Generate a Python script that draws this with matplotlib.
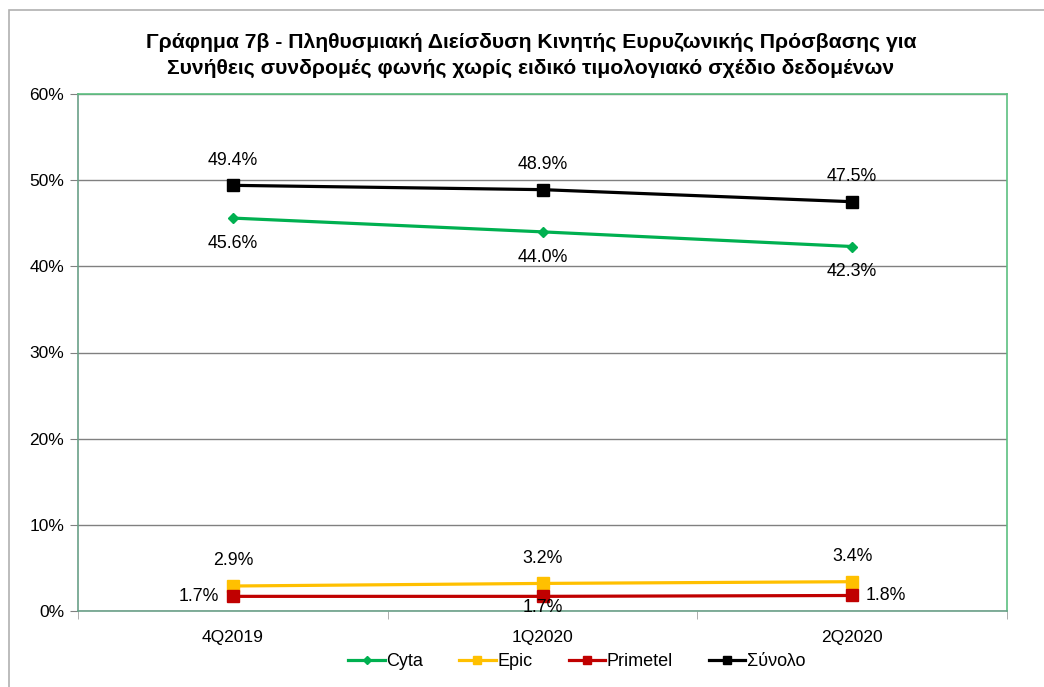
import matplotlib.pyplot as plt
from matplotlib.patches import Rectangle

quarters = ['4Q2019', '1Q2020', '2Q2020']
cyta = [45.6, 44.0, 42.3]
epic = [2.9, 3.2, 3.4]
primetel = [1.7, 1.7, 1.8]
synolo = [49.4, 48.9, 47.5]

plt.rcParams['font.family'] = ['Liberation Sans', 'DejaVu Sans']

fig = plt.figure(figsize=(10.44, 6.87), dpi=100)
ax = fig.add_axes([78 / 1044, 1 - 611 / 687, 929 / 1044, 517 / 687])

x = list(range(len(quarters)))
ax.plot(x, cyta, '-D', color='#00B050', lw=2.3, ms=5.5, label='Cyta', zorder=3)
ax.plot(x, epic, '-s', color='#FFC000', lw=2.3, ms=8, label='Epic', zorder=3)
ax.plot(x, primetel, '-s', color='#C00000', lw=2.3, ms=8, label='Primetel', zorder=3)
ax.plot(x, synolo, '-s', color='black', lw=2.3, ms=8, label='Σύνολο', zorder=3)

fs = 12.8
for i in x:
    ax.annotate(f'{synolo[i]:.1f}%', (i, synolo[i]), xytext=(0, 12), textcoords='offset points',
                ha='center', va='bottom', fontsize=fs)
    ax.annotate(f'{cyta[i]:.1f}%', (i, cyta[i]), xytext=(0, -12), textcoords='offset points',
                ha='center', va='top', fontsize=fs)
    ax.annotate(f'{epic[i]:.1f}%', (i, epic[i]), xytext=(0, 12), textcoords='offset points',
                ha='center', va='bottom', fontsize=fs)
prim_pos = [((-10, 0), 'right', 'center'), ((0, -2), 'center', 'top'), ((10, 0), 'left', 'center')]
for i in x:
    off, ha, va = prim_pos[i]
    ax.annotate(f'{primetel[i]:.1f}%', (i, primetel[i]), xytext=off, textcoords='offset points',
                ha=ha, va=va, fontsize=fs)

ax.set_xlim(-0.5, 2.5)
ax.set_ylim(0, 60)
ax.set_yticks(range(0, 61, 10))
ax.set_yticklabels([f'{v}%' for v in range(0, 61, 10)], fontsize=12.5)
ax.set_xticks(x)
ax.set_xticklabels(quarters, fontsize=12.5)
ax.set_xticks([-0.5, 0.5, 1.5, 2.5], minor=True)
ax.tick_params(axis='x', which='major', length=0, pad=14)
ax.tick_params(axis='x', which='minor', length=6, color='#a0a0a0', direction='out')
ax.tick_params(axis='y', length=6, color='#808080', pad=4)
ax.grid(axis='y', color='#808080', lw=1)
ax.set_axisbelow(True)
for s in ['top', 'right']:
    ax.spines[s].set_color('#5cc080')
ax.spines['left'].set_color('#6aa088')
ax.spines['bottom'].set_color('#6aa088')
for s in ax.spines.values():
    s.set_linewidth(1.2)

fig.text(531 / 1044, 1 - 42 / 687, 'Γράφημα 7β - Πληθυσμιακή Διείσδυση Κινητής Ευρυζωνικής Πρόσβασης για',
         ha='center', va='center', fontsize=15.2, fontweight='bold')
fig.text(531 / 1044, 1 - 68 / 687, 'Συνήθεις συνδρομές φωνής χωρίς ειδικό τιμολογιακό σχέδιο δεδομένων',
         ha='center', va='center', fontsize=15.2, fontweight='bold')

ax.legend(loc='center', bbox_to_anchor=(0.537, -0.098), ncol=4, frameon=False, fontsize=13,
          handlelength=2.0, handletextpad=0.1, columnspacing=2.0, markerscale=0.8)

fig.patches.append(Rectangle((9 / 1044, -0.01), 1.1, 1 - 10 / 687 + 0.01, transform=fig.transFigure,
                             fill=False, ec='#b0b0b0', lw=1.2))

fig.savefig('out.png', dpi=100)
